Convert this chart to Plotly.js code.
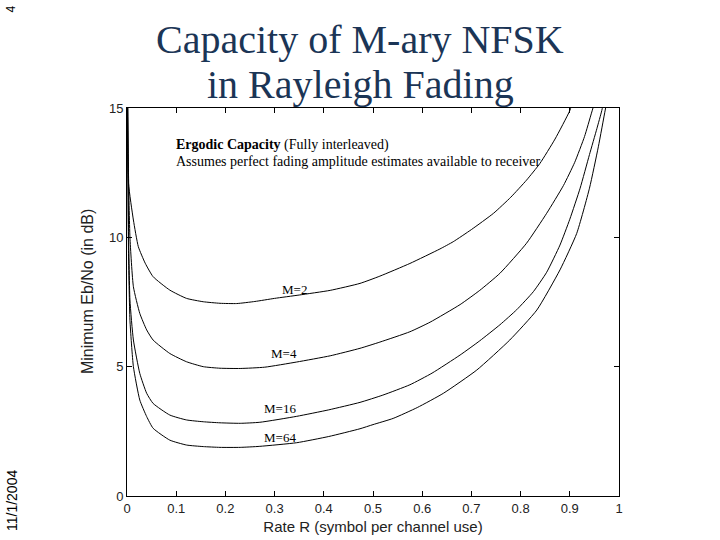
<!DOCTYPE html>
<html>
<head>
<meta charset="utf-8">
<script src="https://cdn.plot.ly/plotly-3.0.1.min.js"></script>
<style>html,body{margin:0;padding:0;background:#fff;}#chart{width:720px;height:540px;}</style>
</head>
<body>
<div id="chart"></div>
<script>
// Rate R (symbol per channel use) and minimum Eb/No (dB) per alphabet size
const rateM2 = [0.001, 0.003, 0.013, 0.023, 0.037, 0.053, 0.087, 0.121, 0.155, 0.189, 0.223, 0.26, 0.30, 0.35, 0.413, 0.4736, 0.514, 0.575, 0.636, 0.663, 0.70, 0.745, 0.78, 0.812, 0.839, 0.87, 0.90, 0.91];
const ebnoM2 = [16, 12.1, 10.67, 9.64, 9.0, 8.48, 7.96, 7.64, 7.51, 7.45, 7.44, 7.52, 7.64, 7.77, 7.95, 8.22, 8.5, 8.99, 9.55, 9.83, 10.3, 10.93, 11.55, 12.21, 12.85, 13.8, 14.9, 15.5];

const rateM4 = [0.001, 0.003, 0.006, 0.013, 0.026, 0.04, 0.053, 0.087, 0.121, 0.155, 0.189, 0.23, 0.28, 0.345, 0.413, 0.4736, 0.514, 0.575, 0.616, 0.677, 0.717, 0.758, 0.812, 0.853, 0.887, 0.91, 0.93, 0.944, 0.955];
const ebnoM4 = [16, 12.5, 10, 8.09, 7.06, 6.42, 6.03, 5.51, 5.19, 5.0, 4.94, 4.93, 4.98, 5.18, 5.42, 5.71, 5.95, 6.35, 6.72, 7.4, 7.95, 8.61, 9.77, 10.93, 12.0, 12.9, 13.9, 14.8, 15.5];

const rateM16 = [0.001, 0.003, 0.006, 0.013, 0.026, 0.04, 0.053, 0.087, 0.121, 0.155, 0.189, 0.23, 0.27, 0.345, 0.41, 0.4736, 0.52, 0.575, 0.62, 0.677, 0.717, 0.758, 0.792, 0.826, 0.853, 0.88, 0.90, 0.921, 0.94, 0.955, 0.965, 0.972];
const ebnoM16 = [16, 10.5, 7.58, 6.03, 4.74, 3.97, 3.58, 3.13, 2.94, 2.87, 2.83, 2.81, 2.85, 3.08, 3.33, 3.62, 3.9, 4.3, 4.75, 5.45, 6.0, 6.62, 7.2, 7.9, 8.65, 9.7, 10.7, 11.9, 13.2, 14.2, 14.9, 15.5];

const rateM64 = [0.001, 0.003, 0.006, 0.013, 0.026, 0.04, 0.053, 0.087, 0.121, 0.155, 0.189, 0.23, 0.27, 0.345, 0.41, 0.4736, 0.50, 0.541, 0.59, 0.643, 0.711, 0.778, 0.833, 0.88, 0.914, 0.94, 0.958, 0.972, 0.978];
const ebnoM64 = [16, 9.5, 6.8, 5.0, 3.71, 3.07, 2.62, 2.16, 1.97, 1.91, 1.88, 1.88, 1.92, 2.06, 2.3, 2.6, 2.76, 3.0, 3.42, 3.97, 4.87, 6.03, 7.19, 8.74, 10.15, 11.9, 13.5, 14.92, 15.5];

const seriesNames = ["M=2", "M=4", "M=16", "M=64"];
// label anchor positions (rate, Eb/No) for curve labels
const labelRate = [0.34, 0.32, 0.31, 0.31];
const labelEbno = [8.0, 5.5, 3.4, 2.25];

const xTickVals = [0, 0.1, 0.2, 0.3, 0.4, 0.5, 0.6, 0.7, 0.8, 0.9, 1];
const xTickText = ["0", "0.1", "0.2", "0.3", "0.4", "0.5", "0.6", "0.7", "0.8", "0.9", "1"];
const yTickVals = [0, 5, 10, 15];
const yTickText = ["0", "5", "10", "15"];

const xs = [rateM2, rateM4, rateM16, rateM64];
const ys = [ebnoM2, ebnoM4, ebnoM16, ebnoM64];

const traces = xs.map((x, i) => ({
  x: x, y: ys[i], type: "scatter", mode: "lines", name: seriesNames[i],
  line: {color: "#000", width: 1, shape: "spline", smoothing: 0.5},
  hoverinfo: "skip"
}));

const serif = "Liberation Serif, Times New Roman, serif";
const sans = "Liberation Sans, Arial, sans-serif";

const annotations = seriesNames.map((n, i) => ({
  x: labelRate[i], y: labelEbno[i], xref: "x", yref: "y", text: n, showarrow: false,
  font: {family: serif, size: 13, color: "#000"}, xanchor: "center", yanchor: "middle"
}));

annotations.push(
  {xref: "paper", yref: "paper", x: 0.4736, y: 1.177, xanchor: "center", yanchor: "middle",
   text: "Capacity of M-ary NFSK", showarrow: false,
   font: {family: serif, size: 40, color: "#1b3556"}},
  {xref: "paper", yref: "paper", x: 0.4736, y: 1.061, xanchor: "center", yanchor: "middle",
   text: "in Rayleigh Fading", showarrow: false,
   font: {family: serif, size: 40, color: "#1b3556"}},
  {xref: "paper", yref: "paper", x: 0.096, y: 0.905, xanchor: "left", yanchor: "middle",
   text: "<b>Ergodic Capacity</b> (Fully interleaved)", showarrow: false,
   font: {family: serif, size: 14, color: "#000"}},
  {xref: "paper", yref: "paper", x: 0.096, y: 0.861, xanchor: "left", yanchor: "middle",
   text: "Assumes perfect fading amplitude estimates available to receiver", showarrow: false,
   font: {family: serif, size: 14, color: "#000"}},
  {xref: "paper", yref: "paper", x: -0.079, y: 0.526, xanchor: "center", yanchor: "middle",
   text: "Minimum Eb/No (in dB)", textangle: -90, showarrow: false,
   font: {family: sans, size: 16, color: "#222"}},
  {xref: "paper", yref: "paper", x: -0.235, y: 1.255, xanchor: "center", yanchor: "middle",
   text: "4", textangle: -90, showarrow: false, font: {family: sans, size: 12, color: "#000"}},
  {xref: "paper", yref: "paper", x: -0.235, y: -0.012, xanchor: "center", yanchor: "middle",
   text: "11/1/2004", textangle: -90, showarrow: false, font: {family: sans, size: 14, color: "#000"}}
);

const layout = {
  width: 720, height: 540,
  paper_bgcolor: "#fff", plot_bgcolor: "#fff",
  margin: {l: 127, r: 101, t: 108, b: 44},
  showlegend: false,
  xaxis: {range: [0, 1], tickvals: xTickVals, ticktext: xTickText, ticks: "inside", ticklen: 5,
          tickcolor: "#000", showline: true, linecolor: "#000", linewidth: 1, mirror: "ticks",
          showgrid: false, zeroline: false, tickfont: {family: sans, size: 13, color: "#222"},
          title: {text: "Rate R (symbol per channel use)", font: {family: sans, size: 15, color: "#222"}, standoff: 6}},
  yaxis: {range: [0, 15], tickvals: yTickVals, ticktext: yTickText, ticks: "inside", ticklen: 5,
          tickcolor: "#000", showline: true, linecolor: "#000", linewidth: 1, mirror: "ticks",
          showgrid: false, zeroline: false, tickfont: {family: sans, size: 13, color: "#222"}},
  annotations: annotations
};

Plotly.newPlot("chart", traces, layout, {staticPlot: true, displayModeBar: false});
</script>
</body>
</html>
